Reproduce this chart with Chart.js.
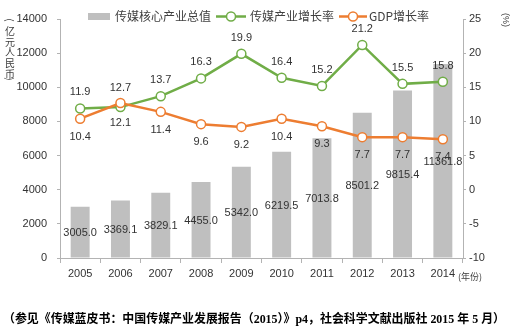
<!DOCTYPE html>
<html>
<head>
<meta charset="utf-8">
<script src="https://cdn.jsdelivr.net/npm/chart.js@4"></script>
<style>
  html, body { margin: 0; padding: 0; background: #fff; }
  canvas { display: block; }
</style>
</head>
<body>
<canvas id="chart" width="514" height="333"></canvas>
<script>
const years = ["2005", "2006", "2007", "2008", "2009", "2010", "2011", "2012", "2013", "2014"];
const coreValue = [3005.0, 3369.1, 3829.1, 4455.0, 5342.0, 6219.5, 7013.8, 8501.2, 9815.4, 11361.8];
const mediaGrowth = [11.9, 12.1, 13.7, 16.3, 19.9, 16.4, 15.2, 21.2, 15.5, 15.8];
const gdpGrowth = [10.4, 12.7, 11.4, 9.6, 9.2, 10.4, 9.3, 7.7, 7.7, 7.4];

const barColor = "#bfbfbf";
const greenColor = "#70ad47";
const orangeColor = "#ed7d31";
const axisColor = "#b3b3b3";
const textColor = "#333333";
const numFont = '"Liberation Sans", Arial, sans-serif';
const cjkFont = '"Noto Sans CJK SC", sans-serif';

// value labels: bars centered, lines above/below depending on which is higher
const valueLabels = {
    id: "valueLabels",
    afterDatasetsDraw(chart) {
        const ctx = chart.ctx;
        ctx.save();
        ctx.font = `11px ${numFont}`;
        ctx.fillStyle = textColor;
        ctx.textAlign = "center";
        ctx.textBaseline = "middle";

        chart.getDatasetMeta(0).data.forEach((bar, i) => {
            ctx.fillText(coreValue[i].toFixed(1), bar.x, (bar.y + bar.base) / 2 + 1);
        });

        const gMeta = chart.getDatasetMeta(1);
        const oMeta = chart.getDatasetMeta(2);
        years.forEach((_, i) => {
            const g = gMeta.data[i];
            const o = oMeta.data[i];
            const greenOnTop = mediaGrowth[i] >= gdpGrowth[i];
            ctx.fillText(mediaGrowth[i].toFixed(1), g.x, greenOnTop ? g.y - 16 : g.y + 16);
            ctx.fillText(gdpGrowth[i].toFixed(1), o.x, greenOnTop ? o.y + 18 : o.y - 15);
        });
        ctx.restore();
    },
};

// legend, axis titles and the source line
const decorations = {
    id: "decorations",
    afterDraw(chart) {
        const ctx = chart.ctx;
        ctx.save();

        // legend
        ctx.textBaseline = "middle";
        ctx.textAlign = "left";
        ctx.font = `12px ${cjkFont}`;
        ctx.fillStyle = barColor;
        ctx.fillRect(88, 13, 22, 7);
        ctx.fillStyle = "#404040";
        ctx.fillText("传媒核心产业总值", 115, 16.5);

        const legendLine = (x0, x1, color, label, tx) => {
            ctx.strokeStyle = color;
            ctx.lineWidth = 2.5;
            ctx.beginPath();
            ctx.moveTo(x0, 16.5);
            ctx.lineTo(x1, 16.5);
            ctx.stroke();
            ctx.beginPath();
            ctx.arc((x0 + x1) / 2, 16.5, 4.5, 0, Math.PI * 2);
            ctx.fillStyle = "#fff";
            ctx.fill();
            ctx.lineWidth = 1.5;
            ctx.stroke();
            ctx.fillStyle = "#404040";
            ctx.fillText(label, tx, 16.5);
        };
        legendLine(216, 246, greenColor, "传媒产业增长率", 250);
        legendLine(339, 367, orangeColor, "GDP增长率", 369);

        // left axis title, stacked
        ctx.fillStyle = "#404040";
        ctx.textAlign = "center";
        ctx.font = `10px ${cjkFont}`;
        "亿元人民币".split("").forEach((ch, i) => {
            ctx.fillText(ch, 10, 31.5 + i * 10.6);
        });
        [["(", 20], [")", 79]].forEach(([ch, y]) => {
            ctx.save();
            ctx.translate(10, y);
            ctx.rotate(Math.PI / 2);
            ctx.fillText(ch, 0, 0);
            ctx.restore();
        });

        // right axis title
        ctx.save();
        ctx.translate(505, 20);
        ctx.rotate(Math.PI / 2);
        ctx.font = `9px ${numFont}`;
        ctx.fillText("(%)", 0, 0);
        ctx.restore();

        // x unit
        ctx.textAlign = "left";
        ctx.font = `9px ${cjkFont}`;
        ctx.fillText("(年份)", 458, 277);

        // source
        ctx.font = `bold 12px "Liberation Serif", ${cjkFont}`;
        ctx.fillStyle = "#000";
        ctx.fillText("（参见《传媒蓝皮书：中国传媒产业发展报告（2015）》p4，社会科学文献出版社 2015 年 5 月）", 3, 320, 502);

        ctx.restore();
    },
};

new Chart(document.getElementById("chart"), {
    data: {
        labels: years,
        datasets: [
            {
                type: "bar",
                label: "传媒核心产业总值",
                data: coreValue,
                backgroundColor: barColor,
                yAxisID: "y",
                categoryPercentage: 1,
                barPercentage: 0.47,
                order: 3,
            },
            {
                type: "line",
                label: "传媒产业增长率",
                data: mediaGrowth,
                borderColor: greenColor,
                borderWidth: 2.5,
                pointRadius: 4.5,
                pointBorderWidth: 1.5,
                pointBackgroundColor: "#fff",
                pointBorderColor: greenColor,
                tension: 0,
                yAxisID: "y1",
                order: 2,
            },
            {
                type: "line",
                label: "GDP增长率",
                data: gdpGrowth,
                borderColor: orangeColor,
                borderWidth: 2.5,
                pointRadius: 4.5,
                pointBorderWidth: 1.5,
                pointBackgroundColor: "#fff",
                pointBorderColor: orangeColor,
                tension: 0,
                yAxisID: "y1",
                order: 1,
            },
        ],
    },
    options: {
        responsive: false,
        animation: false,
        devicePixelRatio: 1,
        layout: { padding: { top: 19, left: 0, right: 0, bottom: 0 } },
        plugins: {
            legend: { display: false },
            tooltip: { enabled: false },
        },
        scales: {
            x: {
                offset: true,
                grid: { display: true, drawOnChartArea: false, drawTicks: true, tickLength: 5, color: axisColor, offset: true },
                border: { display: true, color: axisColor, width: 1 },
                ticks: { color: textColor, font: { family: numFont, size: 11 }, padding: 4, maxRotation: 0 },
                afterFit(scale) { scale.height = 75; },
            },
            y: {
                position: "left",
                min: 0,
                max: 14000,
                ticks: { stepSize: 2000, color: textColor, font: { family: numFont, size: 11 }, padding: 10, callback: v => v },
                grid: { drawOnChartArea: false, drawTicks: true, tickLength: 3, color: axisColor },
                border: { display: true, color: axisColor, width: 1 },
                afterFit(scale) { scale.width = 60; },
            },
            y1: {
                position: "right",
                min: -10,
                max: 25,
                ticks: { stepSize: 5, color: textColor, font: { family: numFont, size: 11 }, padding: 3, callback: v => v },
                grid: { drawOnChartArea: false, drawTicks: true, tickLength: 3, color: axisColor },
                border: { display: true, color: axisColor, width: 1 },
                afterFit(scale) { scale.width = 51; },
            },
        },
    },
    plugins: [valueLabels, decorations],
});
</script>
</body>
</html>
